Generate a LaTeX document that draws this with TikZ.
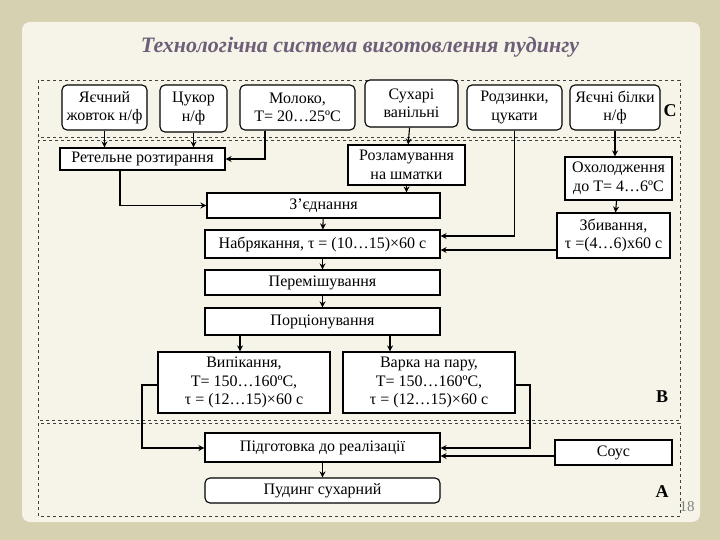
\documentclass[tikz,border=0pt]{standalone}
\usepackage{fontspec}
\setmainfont{Liberation Serif}
\usetikzlibrary{arrows.meta}
\begin{document}
\begin{tikzpicture}[x=1pt,y=-1pt,
 b/.style={draw,line width=1.1pt,fill=white,align=center,inner sep=0pt,font=\fontsize{16}{18.5}\selectfont},
 r/.style={b,rounded corners=5pt},
 a/.style={line width=1.1pt,-{Stealth[length=6pt,width=6pt]}},
 fr/.style={dashed,line width=0.8pt,draw=black!75},
 lab/.style={font=\fontsize{18}{18}\bfseries\selectfont}]
\useasboundingbox (0,0) rectangle (720,540);
\fill[color={rgb,255:red,214;green,209;blue,176}] (0,0) rectangle (720,540);
\fill[color={rgb,255:red,246;green,244;blue,232},rounded corners=8pt] (22,22) rectangle (700,522);
\node[font=\fontsize{22}{22}\bfseries\itshape\selectfont,text={rgb,255:red,110;green,95;blue,120}] (t) at (360,47) {Технологічна система виготовлення пудингу};
\draw[fr] (38,80) rectangle (680,137);
\draw[fr] (38,140) rectangle (680,420);
\draw[fr] (38,423) rectangle (680,516);
\node[lab] (lc) at (670,111) {C};
\node[lab] (lb) at (662,397) {B};
\node[lab] (la) at (662,492) {A};
\node[text=black!50,font=\fontsize{15}{15}\selectfont] (pg) at (687,507) {18};
% C
\node[r,minimum width=85,minimum height=45] (zh) at (104.5,107.5) {Яєчний\\жовток н/ф};
\node[r,minimum width=67,minimum height=47] (cu) at (193.5,108.5) {Цукор\\н/ф};
\node[r,minimum width=115,minimum height=45] (mo) at (297.5,107.5) {Молоко,\\Т= 20…25ºС};
\node[r,minimum width=93,minimum height=47] (su) at (411.5,103.5) {Сухарі\\ванільні};
\node[r,minimum width=95,minimum height=45] (ro) at (514.5,107.5) {Родзинки,\\цукати};
\node[r,minimum width=90,minimum height=45] (bi) at (615,107.5) {Яєчні білки\\н/ф};
% B
\node[b,minimum width=165,minimum height=22] (ret) at (142.5,159) {Ретельне розтирання};
\node[b,minimum width=117,minimum height=40] (rl) at (406.5,165) {Розламування\\на шматки};
\node[b,minimum width=107,minimum height=43] (oh) at (618.5,178.5) {Охолодження\\до Т= 4…6ºС};
\node[b,minimum width=233,minimum height=25] (zj) at (323.5,205.5) {З’єднання};
\node[b,minimum width=113,minimum height=45] (zb) at (613.5,235.5) {Збивання,\\τ =(4…6)х60 с};
\node[b,minimum width=235,minimum height=28] (nb) at (322.5,244) {Набрякання, τ = (10…15)×60 с};
\node[b,minimum width=235,minimum height=25] (pm) at (322.5,282.5) {Перемішування};
\node[b,minimum width=235,minimum height=27] (pc) at (322.5,321.5) {Порціонування};
\node[b,minimum width=172,minimum height=61] (vp) at (244,382.5) {Випікання,\\Т= 150…160ºС,\\τ = (12…15)×60 с};
\node[b,minimum width=172,minimum height=61] (vr) at (429,382.5) {Варка на пару,\\Т= 150…160ºС,\\τ = (12…15)×60 с};
% A
\node[b,minimum width=235,minimum height=29] (pd) at (322.5,447.5) {Підготовка до реалізації};
\node[b,minimum width=117,minimum height=25] (so) at (613.5,452.5) {Соус};
\node[r,minimum width=235,minimum height=25] (pu) at (322.5,490.5) {Пудинг сухарний};
% arrows
\draw[a] (zh.south) -- (ret.north-|zh.south);
\draw[a] (cu.south) -- (ret.north-|cu.south);
\draw[a] (mo.south-|265,0) |- (ret.east);
\draw[a] (su) -- (rl);
\draw[a] (rl.south) -- (zj.north-|rl.south);
\draw[a] (ret.south-|120,0) |- (zj.west);
\draw[a] (ro.south) |- (nb.east|-0,236);
\draw[a] (bi.south) -- (oh.north-|bi.south);
\draw[a] (oh) -- (zb);
\draw[a] (zb.west|-0,250) -- (nb.east|-0,250);
\draw[a] (zj) -- (nb);
\draw[a] (nb) -- (pm);
\draw[a] (pm) -- (pc);
\draw[a] (pc.south-|240,0) -- (vp.north-|240,0);
\draw[a] (pc.south-|390,0) -- (vr.north-|390,0);
\draw[a] (vp.west|-0,385) -| (142,448) -- (pd.west|-0,448);
\draw[a] (vr.east|-0,385) -| (530,448) -- (pd.east|-0,448);
\draw[a] (so.west|-0,456) -- (pd.east|-0,456);
\draw[a] (pd) -- (pu);
\end{tikzpicture}
\end{document}
